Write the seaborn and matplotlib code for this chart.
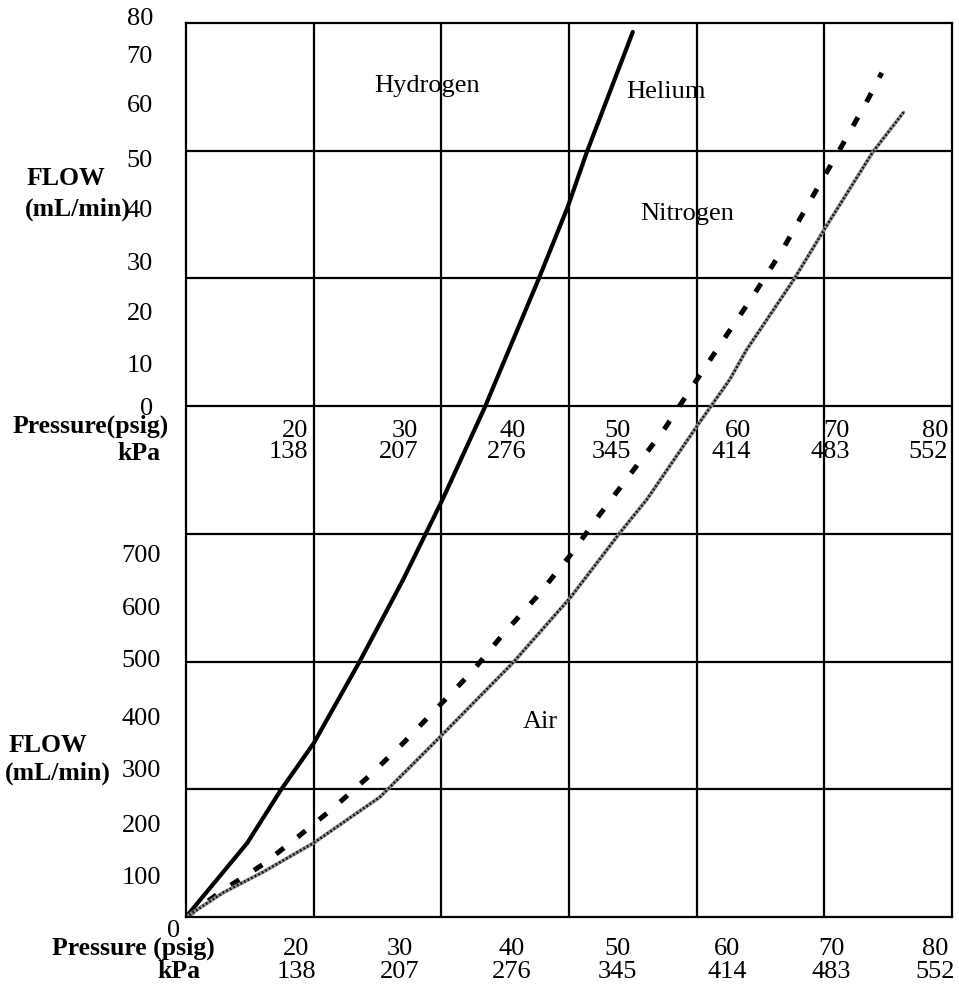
import matplotlib
matplotlib.use("Agg")
import matplotlib.pyplot as plt
import numpy as np
import pandas as pd
import seaborn as sns

# curves: pressure (grid units of 10) vs flow (grid units of 100)
h2_x = [0, 4.8, 7.4, 10.0, 13.6, 17.0, 20.1, 23.4, 27.6, 29.9, 31.4, 35.0]
h2_y = [0, 58, 99, 136, 200, 264, 327, 399, 499, 556, 599, 693]

he_x = [0, 2.9, 6.0, 8.8, 11.5, 14.3, 17.0, 19.7, 22.4, 24.8, 27.5, 30.0,
        32.4, 34.9, 37.4, 39.7, 42.1, 44.4, 46.7, 48.9, 51.1, 53.3, 54.5]
he_y = [0, 21, 41, 63, 85, 110, 136, 164, 192, 221, 251, 282,
        315, 348, 381, 416, 452, 486, 522, 561, 599, 638, 661]

air_x = [0, 2.9, 6.0, 10.0, 15.2, 19.9, 25.6, 30.1, 34.0, 36.1, 40.0,
         42.6, 43.9, 47.6, 50.1, 53.8, 56.2]
air_y = [0, 19, 35, 58, 94, 141, 199, 250, 301, 327, 384,
         421, 444, 499, 540, 599, 630]

top_flow = ["80", "70", "60", "50", "40", "30", "20", "10", "0"]
bot_flow = ["700", "600", "500", "400", "300", "200", "100"]
psig = ["20", "30", "40", "50", "60", "70", "80"]
kpa = ["138", "207", "276", "345", "414", "483", "552"]

W, H = 959, 984

sns.set_style("white")
plt.rcParams["font.family"] = ["Liberation Serif", "DejaVu Serif"]

fig = plt.figure(figsize=(W / 100, H / 100), dpi=100)
ax = fig.add_axes([186 / W, (H - 917) / H, 766 / W, 894 / H])
ax.set_xlim(0, 60)
ax.set_ylim(0, 700)
ax.set_xticks(range(10, 60, 10))
ax.set_yticks(range(100, 700, 100))
ax.set_xticklabels([])
ax.set_yticklabels([])
ax.tick_params(length=0)
ax.grid(True, color="black", lw=1.6)
for s in ax.spines.values():
    s.set_color("black")
    s.set_linewidth(1.6)
    s.set_visible(True)

df_h2 = pd.DataFrame({"p": h2_x, "f": h2_y})
df_he = pd.DataFrame({"p": he_x, "f": he_y})
df_air = pd.DataFrame({"p": air_x, "f": air_y})

sns.lineplot(data=df_h2, x="p", y="f", ax=ax, sort=False, estimator=None,
             color="black", lw=3.0)
sns.lineplot(data=df_he, x="p", y="f", ax=ax, sort=False, estimator=None,
             color="black", lw=3.6, linestyle=(0, (2.0, 3.5)))
sns.lineplot(data=df_air, x="p", y="f", ax=ax, sort=False, estimator=None,
             color="#8a8a8a", lw=2.6)
sns.lineplot(data=df_air, x="p", y="f", ax=ax, sort=False, estimator=None,
             color="black", lw=1.8, linestyle=(0, (0.6, 1.0)))
ax.set_xlabel("")
ax.set_ylabel("")


def txt(x, y, s, ha="center", bold=False, size=19):
    fig.text(x / W, 1 - y / H, s, ha=ha, va="baseline", fontsize=size,
             fontweight="bold" if bold else "normal", color="black")


# gas names
txt(427, 92, "Hydrogen")
txt(666, 98, "Helium")
txt(687, 220, "Nitrogen")
txt(540, 728, "Air")

# upper flow scale
top_base = [25, 63, 112, 167, 217, 270, 320, 372, 415]
for lab, b in zip(top_flow, top_base):
    txt(153, b, lab, ha="right")
txt(27, 185, "FLOW", ha="left", bold=True, size=18.5)
txt(25, 216, "(mL/min)", ha="left", bold=True, size=18.5)
txt(13, 433, "Pressure(psig)", ha="left", bold=True, size=18.5)
txt(117, 460, "kPa", ha="left", bold=True, size=18.5)

# middle pressure row
mid_right = [308, 418, 526, 631, 751, 850, 948]
for p, k, xr in zip(psig, kpa, mid_right):
    txt(xr, 437, p, ha="right")
    txt(xr, 458, k, ha="right")

# lower flow scale
bot_base = [562, 615, 667, 725, 777, 832, 884]
for lab, b in zip(bot_flow, bot_base):
    txt(161, b, lab, ha="right")
txt(180, 937, "0", ha="right")
txt(9, 752, "FLOW", ha="left", bold=True, size=18.5)
txt(5, 780, "(mL/min)", ha="left", bold=True, size=18.5)
txt(52, 955, "Pressure (psig)", ha="left", bold=True, size=18.5)
txt(157, 978, "kPa", ha="left", bold=True, size=18.5)

# bottom pressure row
bot_center = [296, 400, 512, 617, 727, 831, 935]
for p, k, xc in zip(psig, kpa, bot_center):
    txt(xc, 955, p)
    txt(xc, 978, k)

fig.savefig("out.png", dpi=100)
